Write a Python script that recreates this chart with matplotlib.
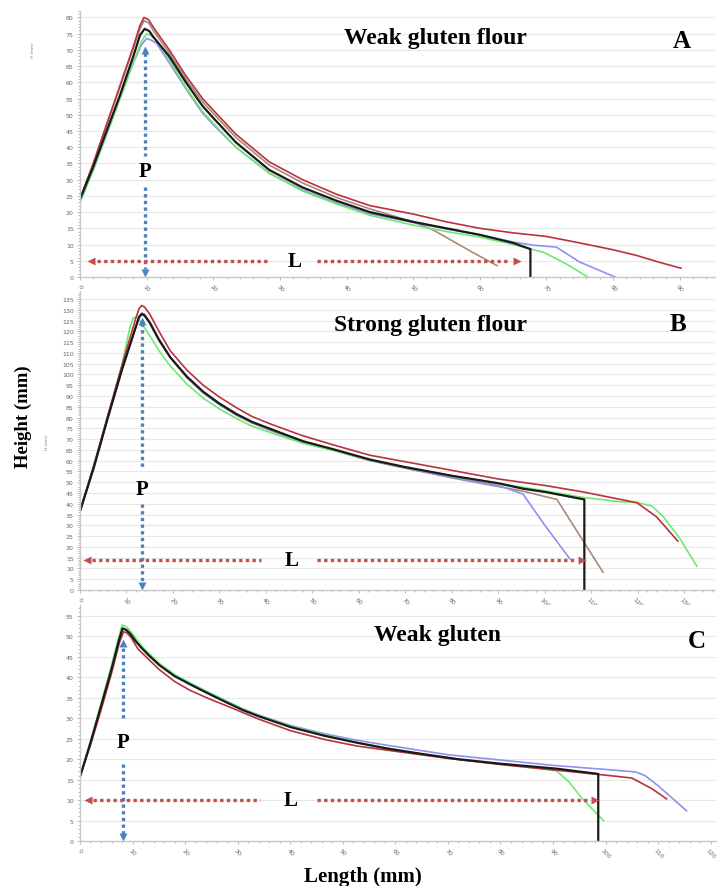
import matplotlib.pyplot as plt
from matplotlib.ticker import MultipleLocator, AutoMinorLocator

# ---- Panel A: weak gluten flour ----
a_red_x = [0, 2, 4, 6, 8, 9, 9.6, 10.3, 11, 13.4, 15.9, 18.4, 20.2, 23.4, 28.4, 33.4, 38.5, 43.5, 50, 55, 60, 65, 70, 75, 80, 83.6, 87, 90.2]
a_red_y = [24, 35, 47, 59, 71, 77.5, 80, 79.3, 77, 70, 62, 55, 51, 44, 35.5, 30, 25.5, 22, 19.4, 17, 15, 13.6, 12.5, 10.5, 8.4, 6.6, 4.5, 2.7]
a_brown_x = [0, 2, 4, 6, 8, 9, 9.6, 10.3, 11, 13.4, 15.9, 18.4, 20.2, 23.4, 28.4, 33.4, 38.5, 43.5, 50, 53, 56, 59, 62.6]
a_brown_y = [24, 35, 47, 58.5, 70.5, 76.5, 79, 78.3, 76, 69, 61, 54, 50, 43, 34.5, 29, 24.5, 21, 17, 14.5, 11, 7.5, 3.5]
a_black_x = [0, 2, 4, 6, 8, 9, 9.7, 10.4, 11, 13.4, 15.9, 18.4, 20.2, 23.4, 28.4, 33.4, 38.5, 43.5, 50, 55, 60, 65, 67.6, 67.6]
a_black_y = [24, 34, 45, 56, 68, 74.5, 76.5, 75.8, 74, 68, 60, 52.7, 48.6, 41.5, 33, 27.6, 23.5, 20, 17, 15, 13, 10.5, 8.6, 0]
a_green_x = [0, 2, 4, 6, 8, 9.2, 10, 10.7, 11.5, 13.4, 15.9, 18.4, 20.2, 23.4, 28.4, 33.4, 38.5, 43.5, 50, 55, 60, 65, 69.6, 73, 76.2]
a_green_y = [23, 33, 44, 55, 66, 72.5, 75, 74.4, 73, 67, 58.5, 51, 47, 40, 32, 26.5, 22.5, 19, 16, 14, 12.3, 10, 7.6, 4, 0]
a_blue_x = [0, 2, 4, 6, 8, 9.2, 10, 10.7, 11.5, 13.4, 15.9, 18.4, 20.2, 23.4, 28.4, 33.4, 38.5, 43.5, 50, 55, 60, 65, 68, 71.5, 75, 78, 80.3]
a_blue_y = [23, 33, 44, 55, 66, 71.5, 73.5, 73, 72, 66, 58, 50.5, 46.5, 40, 32, 26.8, 22.8, 19.5, 16.8, 14.8, 13, 10.8, 9.8, 9.2, 4.6, 2, 0]

# ---- Panel B: strong gluten flour ----
b_red_x = [0, 3, 6, 9, 12, 12.7, 13.3, 13.9, 15, 17, 19.4, 23, 26.5, 30, 33.7, 37, 41, 48, 55, 62.4, 70, 80, 90, 100, 108.2, 114, 119.8, 124, 128.6]
b_red_y = [36.5, 58, 81, 104, 126, 130.5, 132, 131.2, 128, 120, 111, 102, 95, 89.5, 84.5, 80.5, 77, 71.5, 67, 62.5, 59.5, 55.5, 51.5, 48.5, 45.5, 43, 40.5, 34, 22.7]
b_brown_x = [0, 3, 6, 9, 12, 12.7, 13.3, 13.9, 15, 17, 19.4, 23, 26.5, 30, 33.7, 37, 41, 48, 55, 62.4, 70, 80, 90, 95, 102.6, 107, 112.5]
b_brown_y = [36.5, 57, 80, 102, 122, 127, 128.5, 127.8, 124.5, 116.5, 108, 98.5, 91.5, 86, 81, 77.5, 74, 68.5, 64.5, 60, 56.5, 52, 48, 46, 42, 27, 8.3]
b_black_x = [0, 3, 6, 9, 12, 12.7, 13.3, 13.9, 15, 17, 19.4, 23, 26.5, 30, 33.7, 37, 41, 48, 55, 62.4, 70, 80, 90, 95.3, 100, 108.5, 108.5]
b_black_y = [36.5, 57, 80, 102, 122, 126.5, 128, 127.3, 124, 116, 108, 99, 92, 86.5, 81.6, 78, 74.7, 69, 65, 60.5, 57, 53, 49.5, 47, 45.5, 42, 0]
b_green_x = [0, 3, 6, 9, 10.8, 11.5, 12.2, 13, 15, 17, 19.4, 23, 26.5, 30, 33.7, 37, 41, 48, 55, 62.4, 70, 80, 90, 100, 108, 116, 120, 123, 125.5, 129, 132.7]
b_green_y = [36.5, 58, 81, 104, 122.5, 126.3, 126.6, 124.5, 118, 111, 104, 95.5, 89, 84, 79.5, 76, 73, 68, 64.5, 60.3, 57, 53, 49.5, 46, 43, 41, 40.5, 39, 34, 24, 11]
b_blue_x = [0, 3, 6, 9, 12, 12.7, 13.3, 13.9, 15, 17, 19.4, 23, 26.5, 30, 33.7, 37, 41, 48, 55, 62.4, 70, 80, 90, 95.3, 100, 105.4]
b_blue_y = [36.5, 57, 80, 102, 122, 127, 128.5, 127.8, 124, 116, 108, 98.5, 91.5, 86, 81.2, 77.6, 74.3, 68.6, 64.6, 60.2, 56.6, 52.3, 48.5, 44.5, 30, 14.4]

# ---- Panel C: weak gluten ----
c_red_x = [0, 2, 4, 6, 7.5, 8.3, 9, 9.8, 11, 13, 15, 18, 21, 24.5, 28, 34, 40, 46.6, 52.8, 58.5, 70, 80, 90, 100, 105, 108.8, 111.6]
c_red_y = [15.7, 23.5, 32, 41, 48.5, 51.2, 50.8, 49.6, 47, 44.5, 42, 39, 36.8, 34.8, 33, 29.8, 27, 24.8, 23.2, 22.2, 20.2, 18.7, 17.4, 16.1, 15.4, 12.8, 10.3]
c_black_x = [0, 2, 4, 6, 7.4, 8.1, 8.8, 9.6, 10.5, 11.5, 13, 15.1, 18, 21.4, 24.5, 27.7, 31, 34, 40.2, 46.6, 52.8, 58.5, 65, 72, 80, 90.6, 98.6, 98.6]
c_black_y = [15.7, 24, 33, 42, 49, 52, 51.6, 50.6, 49, 47.5, 45.5, 43, 40.3, 38, 36, 34, 32, 30.5, 27.8, 25.7, 24, 22.6, 21.3, 20, 18.9, 17.7, 16.4, 0]
c_green_x = [0, 2, 4, 6, 7.3, 8, 8.7, 9.5, 10.5, 11.5, 13, 15.1, 18, 21.4, 24.5, 27.7, 31, 34, 40.2, 46.6, 52.8, 58.5, 65, 72, 80, 90.6, 93, 95.6, 99.6]
c_green_y = [15.7, 24.5, 33.5, 43, 49.5, 52.8, 52.5, 51.5, 49.8, 48, 46, 43.4, 40.7, 38.3, 36.3, 34.3, 32.3, 30.7, 28, 25.9, 24.1, 22.7, 21.3, 20, 18.8, 17.2, 14.5, 10.3, 5]
c_blue_x = [0, 2, 4, 6, 7.4, 8.1, 8.8, 9.6, 10.5, 11.5, 13, 15.1, 18, 21.4, 24.5, 27.7, 31, 34, 40.2, 46.6, 52.8, 58.5, 70, 80, 90, 100, 105.7, 107.5, 110, 115.4]
c_blue_y = [15.7, 24, 33, 42, 49, 52, 51.7, 50.7, 49.2, 47.8, 45.8, 43.3, 40.6, 38.3, 36.3, 34.3, 32.3, 30.8, 28.2, 26.2, 24.6, 23.4, 21.1, 19.8, 18.5, 17.5, 16.9, 16, 13.5, 7.4]

RED = "#b8323f"
BROWN = "#a98a78"
GREEN = "#6eea6e"
BLUE = "#9090f0"
BLACK = "#1a1a1a"
ARROW_BLUE = "#4f81bd"
ARROW_RED = "#c0504d"
SERIF = "Liberation Serif"

fig = plt.figure(figsize=(7.18, 8.87), dpi=100)

panels = [
    dict(rect=[0.1114, 0.6866, 0.8844, 0.2999], xlim=95.3, ylim=82,
         series=[(a_brown_x, a_brown_y, BROWN), (a_blue_x, a_blue_y, BLUE), (a_green_x, a_green_y, GREEN),
                 (a_red_x, a_red_y, RED), (a_black_x, a_black_y, BLACK)],
         black=(a_black_x, a_black_y),
         title="Weak gluten flour", title_pos=(0.606, 0.957), tag="A", tag_pos=(0.949, 0.953),
         p_pos=32.7, p_top=70, p_gap=(37.3, 27.7), l_y=5, l_x=32.2, l_gap=(28.4, 35.6), l_end=65.6),
    dict(rect=[0.1114, 0.3337, 0.8844, 0.3371], xlim=136.6, ylim=138.7,
         series=[(b_brown_x, b_brown_y, BROWN), (b_blue_x, b_blue_y, BLUE), (b_green_x, b_green_y, GREEN),
                 (b_red_x, b_red_y, RED), (b_black_x, b_black_y, BLACK)],
         black=(b_black_x, b_black_y),
         title="Strong gluten flour", title_pos=(0.599, 0.633), tag="B", tag_pos=(0.944, 0.634),
         p_pos=47, p_top=125, p_gap=(57, 40), l_y=14, l_x=45.5, l_gap=(39, 51), l_end=108),
    dict(rect=[0.1114, 0.0507, 0.8858, 0.2661], xlim=121, ylim=57.7,
         series=[(c_blue_x, c_blue_y, BLUE), (c_green_x, c_green_y, GREEN),
                 (c_red_x, c_red_y, RED), (c_black_x, c_black_y, BLACK)],
         black=(c_black_x, c_black_y),
         title="Weak gluten", title_pos=(0.609, 0.284), tag="C", tag_pos=(0.971, 0.277),
         p_pos=24.3, p_top=48.3, p_gap=(29.5, 18.9), l_y=10, l_x=40, l_gap=(34.3, 45), l_end=98),
]

for p in panels:
    ax = fig.add_axes(p["rect"])
    ax.set_xlim(0, p["xlim"])
    ax.set_ylim(0, p["ylim"])
    ax.xaxis.set_major_locator(MultipleLocator(10))
    ax.yaxis.set_major_locator(MultipleLocator(5))
    ax.xaxis.set_minor_locator(AutoMinorLocator(5))
    ax.yaxis.set_minor_locator(AutoMinorLocator(5))
    ax.grid(axis="y", which="major", color="#e8e8e8", lw=0.8)
    ax.set_axisbelow(True)
    for s in ["top", "right"]:
        ax.spines[s].set_visible(False)
    for s in ["left", "bottom"]:
        ax.spines[s].set_color("#c8c8c8")
        ax.spines[s].set_linewidth(1.0)
    ax.tick_params(which="both", colors="#b0b0b0", labelcolor="#666666", labelsize=4.5,
                   length=2.5, width=0.6, pad=2)
    ax.tick_params(which="minor", length=1.5)
    plt.setp(ax.get_xticklabels(), rotation=-45, ha="center")

    for xs, ys, c in p["series"]:
        lw = 1.6 if c == BLACK else 1.2
        ax.plot(xs, ys, color=c, lw=lw, solid_joinstyle="round")

    # P arrow at the black peak, L arrow to the black end
    bx, by = p["black"]
    peak_x = bx[by.index(max(by))]
    dot = dict(lw=2.4, linestyle=(0, (1, 1)), dash_capstyle="butt")
    ax.plot([peak_x, peak_x], [p["p_top"] - 1, p["p_gap"][0]], color=ARROW_BLUE, **dot)
    ax.plot([peak_x, peak_x], [p["p_gap"][1], p["ylim"] * 0.03], color=ARROW_BLUE, **dot)
    ax.plot(peak_x, p["p_top"], marker="^", ms=6, color=ARROW_BLUE, mec="none")
    ax.plot(peak_x, p["ylim"] * 0.015, marker="v", ms=6, color=ARROW_BLUE, mec="none")
    ax.text(peak_x, p["p_pos"], "P", ha="center", va="center", fontsize=15,
            fontweight="bold", family=SERIF)

    ax.plot([2.5, p["l_gap"][0]], [p["l_y"], p["l_y"]], color=ARROW_RED, **dot)
    ax.plot([p["l_gap"][1], p["l_end"] - 1.5], [p["l_y"], p["l_y"]], color=ARROW_RED, **dot)
    ax.plot(1.6, p["l_y"], marker="<", ms=6, color=ARROW_RED, mec="none")
    ax.plot(p["l_end"], p["l_y"], marker=">", ms=6, color=ARROW_RED, mec="none")
    ax.text(p["l_x"], p["l_y"], "L", ha="center", va="center", fontsize=15,
            fontweight="bold", family=SERIF)

    fig.text(*p["title_pos"], p["title"], ha="center", va="center", fontsize=17,
             fontweight="bold", family=SERIF)
    fig.text(*p["tag_pos"], p["tag"], ha="center", va="center", fontsize=18,
             fontweight="bold", family=SERIF)

# tiny axis captions from the instrument software
fig.text(0.046, 0.944, "H (mm)", rotation=90, ha="center", va="center", fontsize=3, color="#777777")
fig.text(0.066, 0.502, "H (mm)", rotation=90, ha="center", va="center", fontsize=3, color="#777777")

fig.text(0.032, 0.53, "Height (mm)", rotation=90, ha="center", va="center", fontsize=13.5,
         fontweight="bold", family=SERIF)
fig.text(0.505, 0.011, "Length (mm)", ha="center", va="center", fontsize=15,
         fontweight="bold", family=SERIF)

fig.savefig("out.png", dpi=100)
